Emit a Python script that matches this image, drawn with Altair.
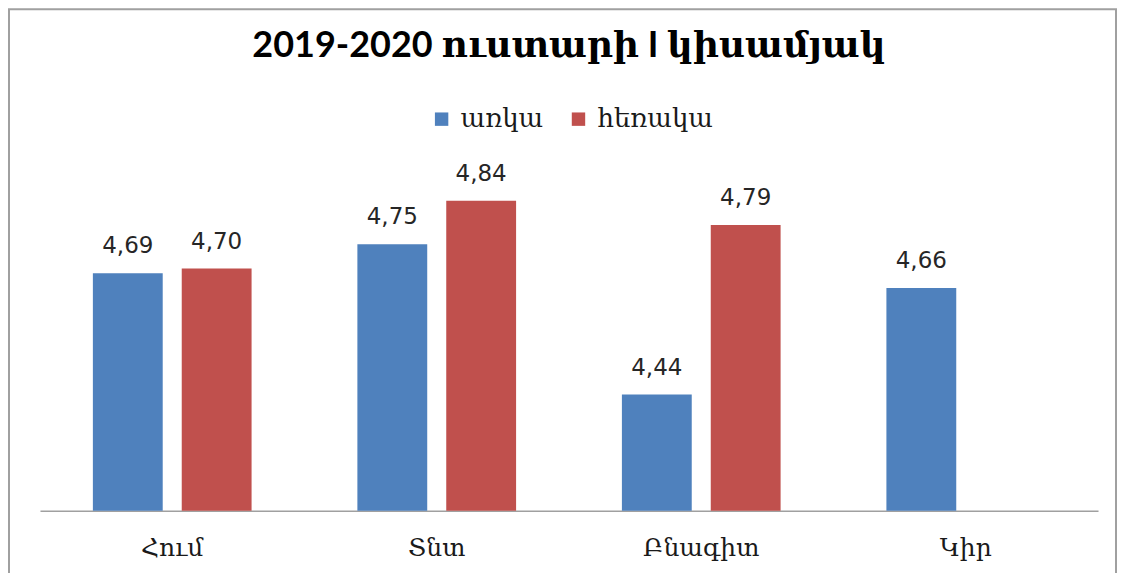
import altair as alt
import pandas as pd

categories = ["Հում", "Տնտ", "Բնագիտ", "Կիր"]
series = ["առկա", "հեռակա"]
arka = [4.69, 4.75, 4.44, 4.66]
herraka = [4.70, 4.84, 4.79, None]
colors = ["#4F81BD", "#C0504D"]
title_text = "2019-2020 ուստարի I կիսամյակ"

rows = []
for c, a, h in zip(categories, arka, herraka):
    rows.append({"cat": c, "ser": series[0], "val": a})
    if h is not None:
        rows.append({"cat": c, "ser": series[1], "val": h})
df = pd.DataFrame(rows)

base = alt.Chart(df).encode(
    x=alt.X(
        "cat:N",
        sort=categories,
        scale=alt.Scale(paddingInner=0.4, paddingOuter=0.2),
        axis=alt.Axis(
            title=None,
            labelAngle=0,
            ticks=False,
            grid=False,
            domainColor="#A0A0A0",
            domainWidth=1.5,
            labelFont="DejaVu Serif",
            labelFontSize=25,
            labelColor="#1a1a1a",
            labelPadding=25,
        ),
    ),
    xOffset=alt.XOffset(
        "ser:N", sort=series, scale=alt.Scale(paddingInner=0.214, paddingOuter=0)
    ),
    y=alt.Y(
        "val:Q",
        scale=alt.Scale(domain=[4.2, 5.0], zero=False, nice=False, clamp=True),
        axis=None,
    ),
)

bars = base.mark_bar().encode(
    color=alt.Color(
        "ser:N",
        sort=series,
        scale=alt.Scale(domain=series, range=colors),
        legend=alt.Legend(
            title=None,
            orient="none",
            legendX=389,
            legendY=-17,
            direction="horizontal",
            symbolType="square",
            symbolSize=180,
            symbolStrokeWidth=0,
            labelFont="DejaVu Serif",
            labelFontSize=26,
            labelColor="#1a1a1a",
            labelOffset=6,
            columnPadding=22,
            padding=0,
        ),
    )
)

labels = (
    base.transform_calculate(lbl="replace(format(datum.val, '.2f'), '.', ',')")
    .mark_text(
        baseline="alphabetic",
        dy=-20,
        font="DejaVu Sans",
        fontSize=23,
        color="#262626",
    )
    .encode(text="lbl:N")
)

frame = (
    alt.Chart(pd.DataFrame({"f": [0]}))
    .mark_rect(fillOpacity=0, stroke="#A0A0A0", strokeWidth=2)
    .encode(
        x=alt.value(-31),
        x2=alt.value(1077),
        y=alt.value(-114),
        y2=alt.value(470),
    )
)

chart = (
    alt.layer(frame, bars, labels)
    .properties(
        width=1059,
        height=388,
        padding={"left": 32, "top": 115, "right": 19, "bottom": 62},
        autosize="none",
        title=alt.Title(
            title_text,
            font="Lato, DejaVu Serif",
            fontSize=36,
            fontWeight="bold",
            color="black",
            anchor="middle",
            baseline="alphabetic",
            offset=-85,
        ),
    )
    .configure_view(stroke=None)
)

chart.save("out.html", embed_options={"renderer": "svg", "actions": False})
